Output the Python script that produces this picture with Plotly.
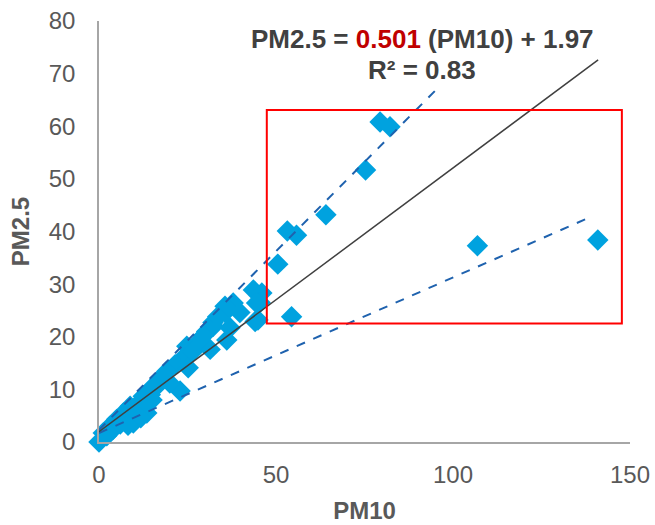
import plotly.graph_objects as go

pm10 = [79.4, 82.2, 75.3, 64.1, 53.2, 55.8, 50.5, 54.4, 106.9, 140.9,
        43.6, 46.0, 45.5, 44.1, 37.9, 35.6, 39.8, 32.2, 37.0, 30.4,
        35.6, 44.5, 44.9, 32.3, 36.1, 31.4, 24.8, 23.8, 21.5, 25.2,
        19.1, 17.2, 22.9, 15.3, 18.2, 12.5, 13.5, 8.8, 6.9, 5.0,
        9.7, 3.1, 1.2, 0.0, 16.3, 11.0, 7.5, 4.0, 2.2, 10.5, 14.5, 6.0, 28.0, 33.5,
        11.8, 8.2, 15.0, 20.0, 26.5, 29.5]
pm25 = [60.8, 59.9, 51.7, 43.2, 40.1, 39.3, 33.8, 23.8, 37.3, 38.4,
        28.9, 28.3, 26.5, 22.9, 26.4, 24.6, 24.6, 22.7, 21.7, 21.0,
        25.8, 26.4, 23.2, 22.0, 19.4, 17.6, 18.2, 16.0, 14.7, 14.1,
        13.4, 11.9, 9.7, 10.6, 12.5, 8.7, 5.5, 6.8, 5.5, 4.3,
        3.6, 3.0, 1.7, 0.0, 10.6, 7.2, 4.8, 2.4, 1.2, 5.2, 9.0, 3.4, 19.0, 23.8,
        4.6, 3.2, 8.0, 11.2, 17.2, 20.2]

# Regression lines (endpoints)
fit_x = [0, 141]
fit_slope, fit_intercept = 0.501, 1.97
upper_x = [0, 96.5]
upper_y = [2.3, 67.8]
lower_x = [0, 139]
lower_y = [1.7, 42.8]

# highlighted region
box_x = [47.4, 147.7]
box_y = [22.5, 63.1]

x_ticks = [0, 50, 100, 150]
y_ticks = [0, 10, 20, 30, 40, 50, 60, 70, 80]

FONT = "Liberation Sans, Arial"

fig = go.Figure()
fig.add_trace(go.Scatter(x=pm10, y=pm25, mode="markers", cliponaxis=False,
                         marker=dict(symbol="diamond", size=16.5, color="#00A2DF",
                                     line=dict(width=0)),
                         showlegend=False))
fig.add_trace(go.Scatter(x=upper_x, y=upper_y, mode="lines",
                         line=dict(color="#1F62AE", width=2, dash="dash"), showlegend=False))
fig.add_trace(go.Scatter(x=lower_x, y=lower_y, mode="lines",
                         line=dict(color="#1F62AE", width=2, dash="dash"), showlegend=False))
fig.add_trace(go.Scatter(x=fit_x, y=[fit_slope * v + fit_intercept for v in fit_x], mode="lines",
                         line=dict(color="#404040", width=1.5), showlegend=False))

fig.add_shape(type="rect", x0=box_x[0], x1=box_x[1], y0=box_y[0], y1=box_y[1],
              xref="x", yref="y", line=dict(color="#FF0000", width=2))

plot_left, plot_right = 99, 630
plot_top, plot_bottom = 21, 442.5
def ypaper(py):
    return (plot_bottom - py) / (plot_bottom - plot_top)
def xpaper(px):
    return (px - plot_left) / (plot_right - plot_left)

fig.add_annotation(x=xpaper(422), y=ypaper(39.5), xref="paper", yref="paper",
                   xanchor="center", yanchor="middle",
                   text="<b>PM2.5 = <span style='color:#C00000'>0.501</span> (PM10) + 1.97</b>",
                   showarrow=False, font=dict(size=26, color="#404040", family=FONT))
fig.add_annotation(x=xpaper(422), y=ypaper(70), xref="paper", yref="paper",
                   xanchor="center", yanchor="middle",
                   text="<b>R² = 0.83</b>", showarrow=False,
                   font=dict(size=26, color="#404040", family=FONT))

axis_font = dict(size=24, color="#595959", family=FONT)
title_font = dict(size=24, color="#595959", family=FONT)
fig.update_xaxes(range=[0, 150], tickvals=x_ticks, showgrid=False, zeroline=False,
                 showline=True, linecolor="#A6A6A6", linewidth=1.5, ticks="",
                 tickfont=axis_font, ticklabelstandoff=10,
                 title=dict(text="<b>PM10</b>", font=title_font, standoff=16))
fig.update_yaxes(range=[0, 80], tickvals=y_ticks, showgrid=False, zeroline=False,
                 showline=True, linecolor="#A6A6A6", linewidth=1.5, ticks="",
                 tickfont=axis_font, ticklabelstandoff=17,
                 title=dict(text="<b>PM2.5</b>", font=title_font, standoff=12))

fig.update_layout(width=655, height=525,
                  margin=dict(l=plot_left, r=655 - plot_right, t=plot_top, b=525 - plot_bottom,
                              autoexpand=False),
                  plot_bgcolor="white", paper_bgcolor="white")

fig.write_html("out.html")
